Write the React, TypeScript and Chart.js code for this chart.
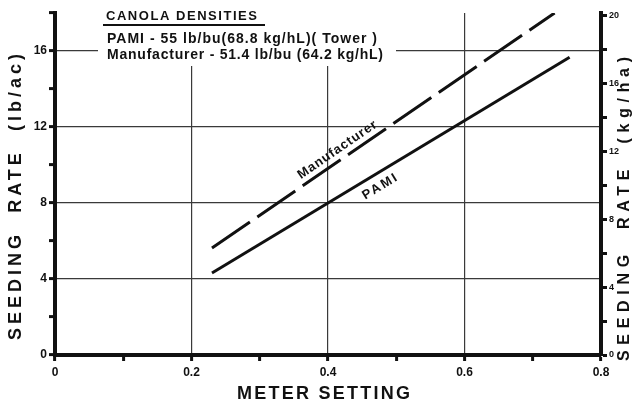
import { useEffect, useRef } from "react";
import { Chart, registerables } from "chart.js";

Chart.register(...registerables);

// ---- data ----
const pamiX = [0.23, 0.754];
const pamiY = [4.32, 15.67];
const manufacturerX = [0.23, 0.732];
const manufacturerY = [5.63, 18.0];

const xTickValues = [0, 0.1, 0.2, 0.3, 0.4, 0.5, 0.6, 0.7, 0.8];
const xTickLabels = ["0", "", "0.2", "", "0.4", "", "0.6", "", "0.8"];
const xGridValues = [0.2, 0.4, 0.6];

const lbTickValues = [0, 2, 4, 6, 8, 10, 12, 14, 16, 18];
const lbTickLabels = ["0", "", "4", "", "8", "", "12", "", "16", ""];
const lbGridValues = [4, 8, 12, 16];

const kgTickValues = [0, 2, 4, 6, 8, 10, 12, 14, 16, 18, 20];
const kgTickLabels = ["0", "", "4", "", "8", "", "12", "", "16", "", "20"];

const LB_AC_TO_KG_HA = 1.12085;
const LB_MAX = 18;

const legendTitle = "CANOLA DENSITIES";
const legendLines = [
  "PAMI - 55 lb/bu(68.8 kg/hL)( Tower )",
  "Manufacturer - 51.4 lb/bu (64.2 kg/hL)",
];
const seriesNames = ["PAMI", "Manufacturer"];
const xTitle = "METER SETTING";
const yTitle = "SEEDING  RATE  (lb/ac)";
const y2Title = "SEEDING  RATE  (kg/ha)";

const near = (a: number, b: number) => Math.abs(a - b) < 1e-6;

function fitText(ctx: CanvasRenderingContext2D, text: string, x: number, y: number, width: number, font: string) {
  ctx.font = font;
  (ctx as any).letterSpacing = "0px";
  const w = ctx.measureText(text).width;
  const ls = text.length > 1 ? (width - w) / (text.length - 1) : 0;
  (ctx as any).letterSpacing = ls + "px";
  ctx.fillText(text, x, y);
  (ctx as any).letterSpacing = "0px";
}

function lineLabel(chart: any, xs: number[], ys: number[], xv: number, offset: number, text: string, width: number) {
  const sx = chart.scales.x;
  const sy = chart.scales.y;
  const t = (xv - xs[0]) / (xs[1] - xs[0]);
  const yv = ys[0] + t * (ys[1] - ys[0]);
  const px = sx.getPixelForValue(xv);
  const py = sy.getPixelForValue(yv);
  const dx = sx.getPixelForValue(xs[1]) - sx.getPixelForValue(xs[0]);
  const dy = sy.getPixelForValue(ys[1]) - sy.getPixelForValue(ys[0]);
  const ang = Math.atan2(dy, dx);
  const ctx = chart.ctx;
  ctx.save();
  ctx.translate(px, py);
  ctx.rotate(ang);
  ctx.translate(0, offset);
  ctx.textAlign = "left";
  ctx.textBaseline = "middle";
  ctx.fillStyle = "#111";
  fitText(ctx, text, -width / 2, 0, width, "bold 13px 'Liberation Sans'");
  ctx.restore();
}

const annotations = {
  id: "annotations",
  beforeDatasetsDraw(chart: any) {
    const ctx = chart.ctx;
    ctx.save();
    ctx.fillStyle = "#fff";
    ctx.fillRect(98, 0, 298, 66);
    ctx.restore();
  },
  afterDraw(chart: any) {
    const ctx = chart.ctx;
    ctx.save();
    ctx.fillStyle = "#111";
    ctx.textAlign = "left";
    ctx.textBaseline = "alphabetic";
    // legend box
    fitText(ctx, legendTitle, 106, 20, 151, "bold 13px 'Liberation Sans'");
    ctx.fillRect(103, 24, 162, 2);
    fitText(ctx, legendLines[0], 107, 43, 270, "bold 14px 'Liberation Sans'");
    fitText(ctx, legendLines[1], 107, 59, 276, "bold 14px 'Liberation Sans'");

    // x title
    ctx.textBaseline = "middle";
    fitText(ctx, xTitle, 237, 394, 173, "bold 18px 'Liberation Sans'");

    // left title
    ctx.save();
    ctx.translate(16, 197);
    ctx.rotate(-Math.PI / 2);
    fitText(ctx, yTitle, -143, 0, 286, "bold 18px 'Liberation Sans'");
    ctx.restore();

    // right title
    ctx.save();
    ctx.translate(625, 209);
    ctx.rotate(-Math.PI / 2);
    fitText(ctx, y2Title, -152, 0, 304, "bold 16px 'Liberation Sans'");
    ctx.restore();
    ctx.restore();

    lineLabel(chart, manufacturerX, manufacturerY, 0.422, -10, seriesNames[1], 93);
    lineLabel(chart, pamiX, pamiY, 0.466, 13, seriesNames[0], 38);
  },
};

export default function App() {
  const ref = useRef<HTMLCanvasElement>(null);

  useEffect(() => {
    if (!ref.current) return;
    const chart = new Chart(ref.current, {
      type: "line",
      data: {
        datasets: [
          {
            label: seriesNames[0],
            data: pamiX.map((x, i) => ({ x, y: pamiY[i] })),
            borderColor: "#111",
            borderWidth: 3,
            pointRadius: 0,
            fill: false,
            tension: 0,
          },
          {
            label: seriesNames[1],
            data: manufacturerX.map((x, i) => ({ x, y: manufacturerY[i] })),
            borderColor: "#111",
            borderWidth: 3,
            borderDash: [46, 9],
            pointRadius: 0,
            fill: false,
            tension: 0,
          },
        ],
      },
      options: {
        responsive: false,
        animation: false,
        devicePixelRatio: 1,
        layout: { padding: { top: 13, left: 0, right: 0, bottom: 0 } },
        plugins: { legend: { display: false }, tooltip: { enabled: false } },
        scales: {
          x: {
            type: "linear",
            min: 0,
            max: 0.8,
            afterBuildTicks: (s: any) => {
              s.ticks = xTickValues.map((v) => ({ value: v }));
            },
            afterFit: (s: any) => {
              s.height = 53;
            },
            ticks: {
              autoSkip: false,
              maxRotation: 0,
              padding: 4,
              color: "#111",
              font: { family: "'Liberation Sans'", size: 12, weight: "bold" },
              callback: (v: any) => {
                const i = xTickValues.findIndex((t) => near(t, v));
                return i >= 0 ? xTickLabels[i] : "";
              },
            },
            grid: {
              color: (c: any) =>
                c.tick && xGridValues.some((g) => near(g, c.tick.value)) ? "#3a3a3a" : "rgba(0,0,0,0)",
              lineWidth: 1.2,
              tickColor: "#111",
              tickWidth: 3,
              tickLength: 6,
            },
            border: { color: "#111", width: 4 },
          },
          y: {
            type: "linear",
            position: "left",
            min: 0,
            max: LB_MAX,
            afterBuildTicks: (s: any) => {
              s.ticks = lbTickValues.map((v) => ({ value: v }));
            },
            afterFit: (s: any) => {
              s.width = 55;
            },
            ticks: {
              autoSkip: false,
              padding: 2,
              color: "#111",
              font: { family: "'Liberation Sans'", size: 12, weight: "bold" },
              callback: (v: any) => {
                const i = lbTickValues.findIndex((t) => near(t, v));
                return i >= 0 ? lbTickLabels[i] : "";
              },
            },
            grid: {
              color: (c: any) =>
                c.tick && lbGridValues.some((g) => near(g, c.tick.value)) ? "#3a3a3a" : "rgba(0,0,0,0)",
              lineWidth: 1.2,
              tickColor: "#111",
              tickWidth: 3,
              tickLength: 6,
            },
            border: { color: "#111", width: 4 },
          },
          y2: {
            type: "linear",
            position: "right",
            min: 0,
            max: LB_MAX * LB_AC_TO_KG_HA,
            afterBuildTicks: (s: any) => {
              s.ticks = kgTickValues.map((v) => ({ value: v }));
            },
            afterFit: (s: any) => {
              s.width = 38;
            },
            ticks: {
              autoSkip: false,
              padding: 2,
              color: "#111",
              font: { family: "'Liberation Sans'", size: 9, weight: "bold" },
              callback: (v: any) => {
                const i = kgTickValues.findIndex((t) => near(t, v));
                return i >= 0 ? kgTickLabels[i] : "";
              },
            },
            grid: {
              drawOnChartArea: false,
              tickColor: "#111",
              tickWidth: 3,
              tickLength: 6,
            },
            border: { color: "#111", width: 4 },
          },
        },
      },
      plugins: [annotations],
    } as any);
    return () => chart.destroy();
  }, []);

  return (
    <div style={{ position: "fixed", left: 0, top: 0, width: 639, height: 408, background: "#fff" }}>
      <canvas ref={ref} width={639} height={408} style={{ display: "block" }} />
    </div>
  );
}
